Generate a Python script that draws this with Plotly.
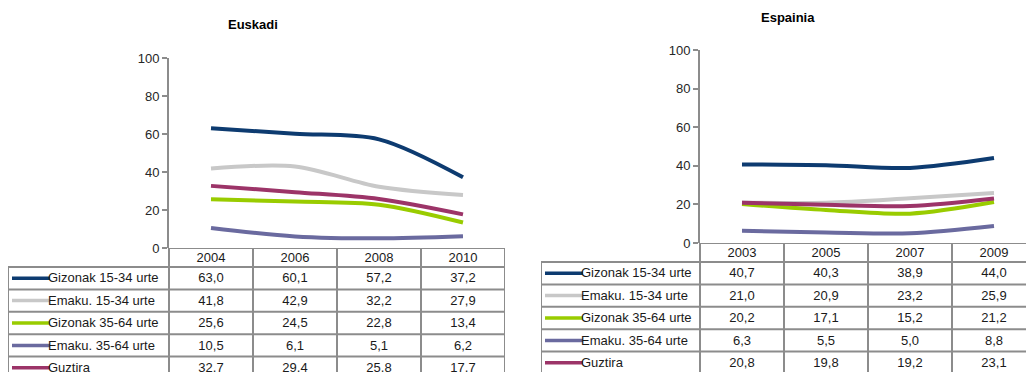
import plotly.graph_objects as go

W, H = 1026, 372
FONT = "Liberation Sans, Arial, sans-serif"

series_names = ["Gizonak 15-34 urte", "Emaku. 15-34 urte", "Gizonak 35-64 urte",
                "Emaku. 35-64 urte", "Guztira"]
series_colors = ["#0d3b70", "#c8c8c8", "#99cc00", "#6a6a9f", "#9c3468"]

# Euskadi
eusk_years = ["2004", "2006", "2008", "2010"]
eusk_giz_15_34 = [63.0, 60.1, 57.2, 37.2]
eusk_ema_15_34 = [41.8, 42.9, 32.2, 27.9]
eusk_giz_35_64 = [25.6, 24.5, 22.8, 13.4]
eusk_ema_35_64 = [10.5, 6.1, 5.1, 6.2]
eusk_guztira = [32.7, 29.4, 25.8, 17.7]

# Espainia
esp_years = ["2003", "2005", "2007", "2009"]
esp_giz_15_34 = [40.7, 40.3, 38.9, 44.0]
esp_ema_15_34 = [21.0, 20.9, 23.2, 25.9]
esp_giz_35_64 = [20.2, 17.1, 15.2, 21.2]
esp_ema_35_64 = [6.3, 5.5, 5.0, 8.8]
esp_guztira = [20.8, 19.8, 19.2, 23.1]

y_ticks = [0, 20, 40, 60, 80, 100]

GRID = "#8c8c8c"
COL_W = 84          # width of one year column, px
HEADER_H = 19       # height of the year row, px
ROW_H = 22.4        # height of each series row, px

fig = go.Figure()
layout = dict(width=W, height=H, autosize=False,
              margin=dict(l=0, r=0, t=0, b=0, pad=0, autoexpand=False),
              paper_bgcolor="white", plot_bgcolor="rgba(0,0,0,0)",
              showlegend=False, shapes=[], annotations=[])


def add_panel(idx, title, title_xy, years, rows, axis_px, y0_px, y100_px, table_left_px):
    n = len(years)
    xi = list(range(n))
    right_px = min(axis_px + n * COL_W, W)
    ax_c, ax_t = 2 * idx + 1, 2 * idx + 2
    xc, yc = f"xaxis{ax_c}", f"yaxis{ax_c}"
    xt, yt = f"xaxis{ax_t}", f"yaxis{ax_t}"

    # chart axes
    layout[xc] = dict(domain=[axis_px / W, right_px / W],
                      range=[-0.5, -0.5 + (right_px - axis_px) / COL_W],
                      visible=False, fixedrange=True, automargin=False)
    layout[yc] = dict(domain=[1 - y0_px / H, 1 - y100_px / H], range=[0, 100],
                      anchor=f"x{ax_c}", tickvals=y_ticks, ticks="outside", ticklen=5,
                      tickcolor=GRID, tickwidth=2, showline=True, linecolor=GRID,
                      linewidth=2, showgrid=False, zeroline=False, automargin=False,
                      tickfont=dict(family=FONT, size=13, color="#262626"),
                      fixedrange=True)

    # table axes (x in column units, y in px below header top)
    left = -0.5 - (axis_px - table_left_px) / COL_W
    layout[xt] = dict(domain=[table_left_px / W, right_px / W],
                      range=[left, left + (right_px - table_left_px) / COL_W],
                      visible=False, fixedrange=True, automargin=False)
    layout[yt] = dict(domain=[0, 1 - y0_px / H], range=[H - y0_px, 0],
                      anchor=f"x{ax_t}", visible=False, fixedrange=True,
                      automargin=False)

    for name, color, vals in zip(series_names, series_colors, rows):
        fig.add_trace(go.Scatter(x=xi, y=vals, mode="lines", name=name,
                                 line=dict(color=color, width=4, shape="spline",
                                           smoothing=0.9),
                                 xaxis=f"x{ax_c}", yaxis=f"y{ax_c}",
                                 hoverinfo="skip"))

    # table grid
    row_edges = [0, HEADER_H] + [HEADER_H + (k + 1) * ROW_H for k in range(len(rows))]
    bottom = row_edges[-1]
    xr, yr = f"x{ax_t}", f"y{ax_t}"
    line = dict(color=GRID, width=2)
    shp = layout["shapes"]
    shp.append(dict(type="line", xref=xr, yref=yr, x0=-0.5, x1=n - 0.5, y0=0, y1=0, line=line))
    for e in row_edges[1:]:
        shp.append(dict(type="line", xref=xr, yref=yr, x0=left, x1=n - 0.5, y0=e, y1=e, line=line))
    for c in range(n + 1):
        shp.append(dict(type="line", xref=xr, yref=yr, x0=c - 0.5, x1=c - 0.5,
                        y0=0, y1=bottom, line=line))
    shp.append(dict(type="line", xref=xr, yref=yr, x0=left, x1=left,
                    y0=HEADER_H, y1=bottom, line=line))

    txt = dict(family=FONT, size=13, color="#1a1a1a")
    # year header
    fig.add_trace(go.Scatter(x=xi, y=[HEADER_H / 2 + 1] * n, mode="text", text=years,
                             textfont=txt, xaxis=xr, yaxis=yr, hoverinfo="skip"))
    # series rows
    for k, (name, color, vals) in enumerate(zip(series_names, series_colors, rows)):
        yc_mid = HEADER_H + (k + 0.5) * ROW_H + 1
        fig.add_trace(go.Scatter(x=xi, y=[yc_mid] * n, mode="text",
                                 text=[f"{v:.1f}".replace(".", ",") for v in vals],
                                 textfont=txt, xaxis=xr, yaxis=yr, hoverinfo="skip"))
        sw0 = left + 4 / COL_W
        sw1 = left + 42 / COL_W
        fig.add_trace(go.Scatter(x=[sw0, sw1], y=[yc_mid - 1, yc_mid - 1], mode="lines",
                                 line=dict(color=color, width=3.5),
                                 xaxis=xr, yaxis=yr, hoverinfo="skip"))
        fig.add_trace(go.Scatter(x=[sw1 - 2 / COL_W], y=[yc_mid], mode="text", text=[name],
                                 textposition="middle right", textfont=txt,
                                 xaxis=xr, yaxis=yr, hoverinfo="skip"))

    layout["annotations"].append(dict(text=f"<b>{title}</b>", x=title_xy[0] / W,
                                      y=1 - title_xy[1] / H, xref="paper", yref="paper",
                                      showarrow=False, xanchor="center", yanchor="middle",
                                      font=dict(family=FONT, size=13, color="#000")))


add_panel(0, "Euskadi", (253, 25), eusk_years,
          [eusk_giz_15_34, eusk_ema_15_34, eusk_giz_35_64, eusk_ema_35_64, eusk_guztira],
          axis_px=169, y0_px=248, y100_px=58, table_left_px=8)
add_panel(1, "Espainia", (788, 18), esp_years,
          [esp_giz_15_34, esp_ema_15_34, esp_giz_35_64, esp_ema_35_64, esp_guztira],
          axis_px=700, y0_px=243, y100_px=50, table_left_px=541)

fig.update_layout(**layout)
fig.write_html("out.html", config=dict(responsive=False, displayModeBar=False))
